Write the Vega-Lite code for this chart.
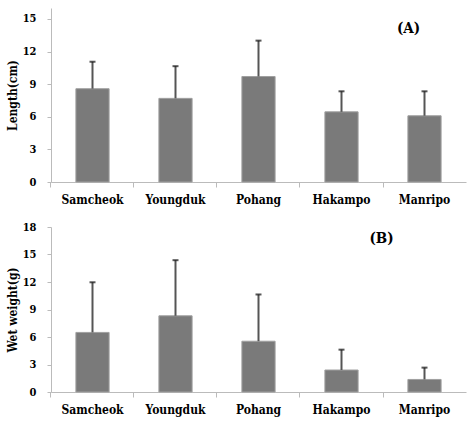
{
  "$schema": "https://vega.github.io/schema/vega-lite/v6.json",
  "padding": {"left": 6, "top": 8, "right": 8, "bottom": 3},
  "background": "white",
  "config": {
    "font": "DejaVu Serif Condensed",
    "view": {"stroke": null},
    "axis": {
      "labelFont": "DejaVu Serif Condensed",
      "labelFontWeight": "bold",
      "labelFontSize": 11,
      "labelColor": "#000",
      "labelOverlap": false,
      "titleFont": "DejaVu Serif Condensed",
      "titleFontWeight": "bold",
      "titleFontSize": 12,
      "titleColor": "#000",
      "domainColor": "#bbbbbb",
      "tickColor": "#bbbbbb",
      "grid": false
    }
  },
  "data": {
    "values": [
      {"site": "Samcheok", "length": 8.58, "lengthUpper": 11.06, "weight": 6.5, "weightUpper": 11.97},
      {"site": "Youngduk", "length": 7.69, "lengthUpper": 10.65, "weight": 8.31, "weightUpper": 14.38},
      {"site": "Pohang", "length": 9.7, "lengthUpper": 13.0, "weight": 5.54, "weightUpper": 10.64},
      {"site": "Hakampo", "length": 6.45, "lengthUpper": 8.34, "weight": 2.4, "weightUpper": 4.62},
      {"site": "Manripo", "length": 6.09, "lengthUpper": 8.34, "weight": 1.37, "weightUpper": 2.66}
    ]
  },
  "spacing": 16,
  "vconcat": [
    {
      "width": 415,
      "height": 174,
      "encoding": {
        "x": {
          "field": "site", "type": "nominal", "sort": null,
          "scale": {"paddingInner": 0.6, "paddingOuter": 0.3},
          "axis": {"title": null, "labelAngle": 0, "tickSize": 5, "labelPadding": 7, "bandPosition": -0.75, "labelFontSize": 12}
        }
      },
      "layer": [
        {
          "mark": {"type": "bar", "color": "#7a7a7a", "stroke": "#a0a0a0", "strokeWidth": 1},
          "encoding": {
            "y": {
              "field": "length", "type": "quantitative",
              "scale": {"domain": [0, 15]},
              "axis": {"title": "Length(cm)", "values": [0, 3, 6, 9, 12, 15], "tickSize": 4, "labelPadding": 11, "titlePadding": 3}
            }
          }
        },
        {
          "mark": {"type": "rule", "color": "#555555", "strokeWidth": 2},
          "encoding": {
            "y": {"field": "length", "type": "quantitative", "axis": {"title": "Length(cm)", "values": [0, 3, 6, 9, 12, 15], "tickSize": 4, "labelPadding": 11, "titlePadding": 3}},
            "y2": {"field": "lengthUpper"}
          }
        },
        {
          "mark": {"type": "tick", "color": "#111111", "size": 6, "thickness": 2},
          "encoding": {
            "y": {"field": "lengthUpper", "type": "quantitative", "axis": {"title": "Length(cm)", "values": [0, 3, 6, 9, 12, 15], "tickSize": 4, "labelPadding": 11, "titlePadding": 3}}
          }
        },
        {
          "data": {"values": [{"site": "Manripo", "value": 14.2, "label": "(A)"}]},
          "mark": {"type": "text", "font": "DejaVu Serif Condensed", "fontWeight": "bold", "fontSize": 15, "dx": -16},
          "encoding": {
            "y": {"field": "value", "type": "quantitative", "axis": {"title": "Length(cm)", "values": [0, 3, 6, 9, 12, 15], "tickSize": 4, "labelPadding": 11, "titlePadding": 3}},
            "text": {"field": "label"}
          }
        }
      ]
    },
    {
      "width": 415,
      "height": 165,
      "encoding": {
        "x": {
          "field": "site", "type": "nominal", "sort": null,
          "scale": {"paddingInner": 0.6, "paddingOuter": 0.3},
          "axis": {"title": null, "labelAngle": 0, "tickSize": 5, "labelPadding": 7, "bandPosition": -0.75, "labelFontSize": 12}
        }
      },
      "layer": [
        {
          "mark": {"type": "bar", "color": "#7a7a7a", "stroke": "#a0a0a0", "strokeWidth": 1},
          "encoding": {
            "y": {
              "field": "weight", "type": "quantitative",
              "scale": {"domain": [0, 18]},
              "axis": {"title": "Wet weight(g)", "values": [0, 3, 6, 9, 12, 15, 18], "tickSize": 4, "labelPadding": 11, "titlePadding": 3}
            }
          }
        },
        {
          "mark": {"type": "rule", "color": "#555555", "strokeWidth": 2},
          "encoding": {
            "y": {"field": "weight", "type": "quantitative", "axis": {"title": "Wet weight(g)", "values": [0, 3, 6, 9, 12, 15, 18], "tickSize": 4, "labelPadding": 11, "titlePadding": 3}},
            "y2": {"field": "weightUpper"}
          }
        },
        {
          "mark": {"type": "tick", "color": "#111111", "size": 6, "thickness": 2},
          "encoding": {
            "y": {"field": "weightUpper", "type": "quantitative", "axis": {"title": "Wet weight(g)", "values": [0, 3, 6, 9, 12, 15, 18], "tickSize": 4, "labelPadding": 11, "titlePadding": 3}}
          }
        },
        {
          "data": {"values": [{"site": "Hakampo", "value": 16.8, "label": "(B)"}]},
          "mark": {"type": "text", "font": "DejaVu Serif Condensed", "fontWeight": "bold", "fontSize": 15, "dx": 40},
          "encoding": {
            "y": {"field": "value", "type": "quantitative", "axis": {"title": "Wet weight(g)", "values": [0, 3, 6, 9, 12, 15, 18], "tickSize": 4, "labelPadding": 11, "titlePadding": 3}},
            "text": {"field": "label"}
          }
        }
      ]
    }
  ]
}
